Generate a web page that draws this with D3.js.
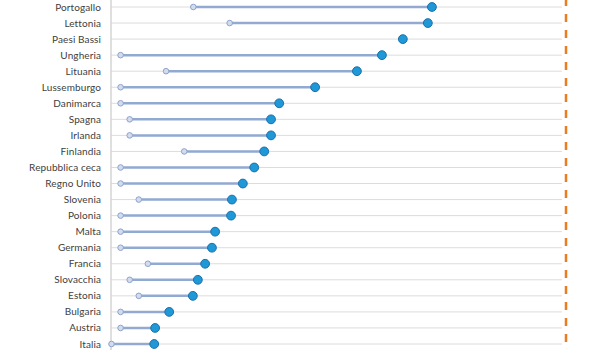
<!DOCTYPE html>
<html>
<head>
<meta charset="utf-8">
<script src="https://cdn.jsdelivr.net/npm/d3@7"></script>
<style>
  html, body { margin: 0; padding: 0; background: #fff; }
  svg { display: block; }
  text { font-family: Lato, "Open Sans", sans-serif; }
</style>
</head>
<body>
<svg id="chart" width="604" height="350"></svg>
<script>
// Countries, top to bottom
const countries = ["Portogallo", "Lettonia", "Paesi Bassi", "Ungheria", "Lituania",
  "Lussemburgo", "Danimarca", "Spagna", "Irlanda", "Finlandia", "Repubblica ceca",
  "Regno Unito", "Slovenia", "Polonia", "Malta", "Germania", "Francia",
  "Slovacchia", "Estonia", "Bulgaria", "Austria", "Italia"];

// Starting value (light dot); null where there is none
const startValues = [18, 26, null, 2, 12, 2, 2, 4, 4, 16, 2, 2, 6, 2, 2, 2, 8, 4, 6, 2, 2, 0];

// Ending value (dark dot)
const endValues = [70.5, 69.6, 64.1, 59.5, 54.0, 44.8, 36.9, 35.1, 35.1, 33.6, 31.4,
  28.9, 26.5, 26.3, 22.8, 22.1, 20.6, 19.0, 17.9, 12.7, 9.6, 9.4];

// Reference target
const targetValue = 100;

const rows = countries.map((c, i) => ({ country: c, start: startValues[i], end: endValues[i] }));

const svg = d3.select("#chart");
const W = 604, H = 350;

const x = d3.scaleLinear().domain([0, 100]).range([111.5, 566]);
const y = d3.scalePoint().domain(countries).range([7, 344]);

// Horizontal gridlines through each row
svg.append("g")
  .selectAll("line")
  .data(countries)
  .join("line")
  .attr("x1", x(0))
  .attr("x2", 562)
  .attr("y1", d => y(d))
  .attr("y2", d => y(d))
  .attr("stroke", "#DCDCDC")
  .attr("stroke-width", 1);

// Category labels
svg.append("g")
  .selectAll("text")
  .data(countries)
  .join("text")
  .attr("x", 101)
  .attr("y", d => y(d))
  .attr("dy", "0.35em")
  .attr("text-anchor", "end")
  .attr("font-size", 10)
  .attr("letter-spacing", 0.1)
  .attr("fill", "#404040")
  .text(d => d);

// Target dashed line
svg.append("line")
  .attr("x1", x(targetValue))
  .attr("x2", x(targetValue))
  .attr("y1", 0)
  .attr("y2", H)
  .attr("stroke", "#E87D22")
  .attr("stroke-width", 2.5)
  .attr("stroke-dasharray", "8,8")
  .attr("stroke-dashoffset", 2);

// Vertical axis line
svg.append("line")
  .attr("x1", x(0) - 0.5)
  .attr("x2", x(0) - 0.5)
  .attr("y1", 0)
  .attr("y2", H)
  .attr("stroke", "#BFBFBF")
  .attr("stroke-width", 1);

// Connecting segments
svg.append("g")
  .selectAll("line")
  .data(rows.filter(d => d.start !== null))
  .join("line")
  .attr("x1", d => x(d.start))
  .attr("x2", d => x(d.end))
  .attr("y1", d => y(d.country))
  .attr("y2", d => y(d.country))
  .attr("stroke", "#92A9D2")
  .attr("stroke-width", 2.5);

// Start dots
svg.append("g")
  .selectAll("circle")
  .data(rows.filter(d => d.start !== null))
  .join("circle")
  .attr("cx", d => x(d.start))
  .attr("cy", d => y(d.country))
  .attr("r", 2.8)
  .attr("fill", "#D3DCEE")
  .attr("stroke", "#8EA3CB")
  .attr("stroke-width", 1);

// End dots
svg.append("g")
  .selectAll("circle")
  .data(rows)
  .join("circle")
  .attr("cx", d => x(d.end))
  .attr("cy", d => y(d.country))
  .attr("r", 4.4)
  .attr("fill", "#1F98D8")
  .attr("stroke", "#1A6FA8")
  .attr("stroke-width", 1);
</script>
</body>
</html>
